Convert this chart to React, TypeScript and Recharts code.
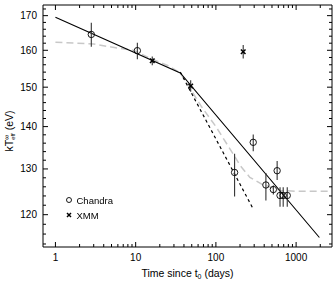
import { ComposedChart, Scatter, Line, XAxis, YAxis, ErrorBar, Legend } from "recharts";

// Chandra observations (days since t0, kT in eV, error bars)
const chandraDays = [2.8, 10.5, 171, 292, 420, 520, 580, 630, 690, 775];
const chandraKT = [164.5, 159.9, 129.2, 136.2, 126.4, 125.4, 129.6, 124.1, 124.1, 124.1];
const chandraErrLow = [3.5, 2.4, 5.3, 2.1, 3.4, 1.1, 2.1, 2.4, 2.4, 2.4];
const chandraErrHigh = [3.4, 2.2, 4.3, 1.9, 2.7, 0.9, 2.2, 1.8, 1.8, 1.8];

// XMM observations
const xmmDays = [16.1, 48.5, 219];
const xmmKT = [157.1, 150.3, 159.6];
const xmmErr = [1.2, 1.5, 1.9];

// broken power law fit (solid)
const fitDays = [1, 36, 1950];
const fitKT = [169.5, 153.8, 115.3];

// steep power law (black dashed)
const steepDays = [36, 292];
const steepKT = [154, 121.2];

// cooling model (grey dashed)
const modelDays = [1, 3, 5, 9.4, 15, 25, 36, 66, 100, 170, 200, 265, 372, 630, 1000, 2640];
const modelKT = [162.3, 161.8, 160.9, 160.0, 157.8, 155.8, 153.8, 145, 140, 133, 130.8, 128.1, 126.6, 125.2, 125.0, 125.0];

const xTicks = [1, 2, 3, 4, 5, 6, 7, 8, 9, 10, 20, 30, 40, 50, 60, 70, 80, 90, 100, 200, 300, 400, 500, 600, 700, 800, 900, 1000, 2000];
const yTicks = [114, 116, 118, 120, 122, 124, 126, 128, 130, 132, 134, 136, 138, 140, 142, 144, 146, 148, 150, 152, 154, 156, 158, 160, 162, 164, 166, 168, 170, 172];

const chandra = chandraDays.map((t, i) => ({ t, kT: chandraKT[i], err: [chandraErrLow[i], chandraErrHigh[i]] }));
const xmm = xmmDays.map((t, i) => ({ t, kT: xmmKT[i], err: [xmmErr[i], xmmErr[i]] }));
const fit = fitDays.map((t, i) => ({ t, kT: fitKT[i] }));
const steep = steepDays.map((t, i) => ({ t, kT: steepKT[i] }));
const model = modelDays.map((t, i) => ({ t, kT: modelKT[i] }));

const FONT = "'Liberation Sans', Arial, Helvetica, sans-serif";
const isDecade = (v: number) => Math.abs(Math.log10(v) - Math.round(Math.log10(v))) < 1e-9;

const BottomTick = (p: any) => {
  const v = p.payload.value;
  const major = isDecade(v);
  return (
    <g>
      <line x1={p.x} x2={p.x} y1={p.y} y2={p.y - (major ? 5 : 3)} stroke="#000" />
      {major && (
        <text x={p.x} y={p.y + 13.5} textAnchor="middle" fontSize={10} fontFamily={FONT} fill="#000">
          {v}
        </text>
      )}
    </g>
  );
};

const TopTick = (p: any) => {
  const major = isDecade(p.payload.value);
  return <line x1={p.x} x2={p.x} y1={p.y} y2={p.y + (major ? 5 : 3)} stroke="#000" />;
};

const LeftTick = (p: any) => {
  const v = p.payload.value;
  const major = v % 10 === 0;
  return (
    <g>
      <line x1={p.x} x2={p.x + (major ? 5 : 3)} y1={p.y} y2={p.y} stroke="#000" />
      {major && (
        <text x={p.x - 6} y={p.y + 3.5} textAnchor="end" fontSize={10} fontFamily={FONT} fill="#000">
          {v}
        </text>
      )}
    </g>
  );
};

const RightTick = (p: any) => {
  const major = p.payload.value % 10 === 0;
  return <line x1={p.x} x2={p.x - (major ? 5 : 3)} y1={p.y} y2={p.y} stroke="#000" />;
};

const XTitle = (p: any) => {
  const vb = p.viewBox;
  return (
    <text x={vb.x + vb.width / 2} y={vb.y + 30} textAnchor="middle" fontSize={10.5} fontFamily={FONT} fill="#000">
      Time since t
      <tspan fontSize={7} dy={2}>0</tspan>
      <tspan dy={-2}> (days)</tspan>
    </text>
  );
};

const YTitle = () => {
  const x = 13;
  const y = 131;
  return (
    <text x={x} y={y} transform={`rotate(-90, ${x}, ${y})`} textAnchor="middle" fontSize={10.5} fontFamily={FONT} fill="#000">
      kT
      <tspan fontSize={7} dy={-4}>∞</tspan>
      <tspan fontSize={6} dx={-5} dy={6}>eff</tspan>
      <tspan dy={-2}> (eV)</tspan>
    </text>
  );
};

const OpenCircle = (p: any) => <circle cx={p.cx} cy={p.cy} r={3.2} fill="none" stroke="#000" strokeWidth={0.9} />;

const Cross = (p: any) => (
  <g stroke="#000" strokeWidth={1.5}>
    <line x1={p.cx - 2.3} y1={p.cy - 2.3} x2={p.cx + 2.3} y2={p.cy + 2.3} />
    <line x1={p.cx - 2.3} y1={p.cy + 2.3} x2={p.cx + 2.3} y2={p.cy - 2.3} />
  </g>
);

const LegendContent = (p: any) => {
  const items = (p.payload || []).filter((e: any) => e.type !== "none");
  return (
    <div style={{ position: "fixed", left: 64, top: 193, fontFamily: FONT, fontSize: 9.5, color: "#000" }}>
      {items.map((e: any) => (
        <div key={e.value} style={{ display: "flex", alignItems: "center", height: 14.7 }}>
          <svg width={10} height={10} style={{ marginRight: 2.5 }}>
            {e.value === "Chandra" ? (
              <circle cx={5} cy={5} r={2.5} fill="none" stroke="#000" strokeWidth={0.9} />
            ) : (
              <g stroke="#000" strokeWidth={1.5}>
                <line x1={3} y1={3} x2={7} y2={7} />
                <line x1={3} y1={7} x2={7} y2={3} />
              </g>
            )}
          </svg>
          <span>{e.value}</span>
        </div>
      ))}
    </div>
  );
};

export default function App() {
  return (
    <div style={{ position: "absolute", left: 0, top: 0, width: 334, height: 284, background: "#fff" }}>
      <ComposedChart width={334} height={284} margin={{ top: 0, right: 0, bottom: 0, left: 0 }}>
        <XAxis
          type="number"
          dataKey="t"
          scale="log"
          domain={[0.7, 2800]}
          allowDataOverflow
          ticks={xTicks}
          interval={0}
          height={37}
          tickSize={0}
          tickMargin={0}
          tickLine={false}
          axisLine={{ stroke: "#000" }}
          tick={BottomTick}
          label={XTitle}
        />
        <XAxis
          xAxisId="top"
          orientation="top"
          type="number"
          dataKey="t"
          scale="log"
          domain={[0.7, 2800]}
          allowDataOverflow
          ticks={xTicks}
          interval={0}
          height={5}
          tickSize={0}
          tickMargin={0}
          tickLine={false}
          axisLine={{ stroke: "#000" }}
          tick={TopTick}
        />
        <YAxis
          type="number"
          dataKey="kT"
          scale="log"
          domain={[113.4, 173.2]}
          allowDataOverflow
          ticks={yTicks}
          interval={0}
          width={43}
          tickSize={0}
          tickMargin={0}
          tickLine={false}
          axisLine={{ stroke: "#000" }}
          tick={LeftTick}
          label={YTitle}
        />
        <YAxis
          yAxisId="right"
          orientation="right"
          type="number"
          scale="log"
          domain={[113.4, 173.2]}
          allowDataOverflow
          ticks={yTicks}
          interval={0}
          width={2}
          tickSize={0}
          tickMargin={0}
          tickLine={false}
          axisLine={{ stroke: "#000" }}
          tick={RightTick}
        />
        <Line data={model} dataKey="kT" stroke="#c8c8c8" strokeWidth={1.5} strokeDasharray="7 4" dot={false} legendType="none" isAnimationActive={false} />
        <Line data={steep} dataKey="kT" stroke="#000" strokeWidth={1.2} strokeDasharray="3 3" dot={false} legendType="none" isAnimationActive={false} />
        <Line data={fit} dataKey="kT" stroke="#000" strokeWidth={1.1} dot={false} legendType="none" isAnimationActive={false} />
        <Scatter name="Chandra" data={chandra} dataKey="kT" shape={OpenCircle} isAnimationActive={false}>
          <ErrorBar dataKey="err" direction="y" width={0} stroke="#333" strokeWidth={1.1} isAnimationActive={false} />
        </Scatter>
        <Scatter name="XMM" data={xmm} dataKey="kT" shape={Cross} isAnimationActive={false}>
          <ErrorBar dataKey="err" direction="y" width={0} stroke="#333" strokeWidth={1.1} isAnimationActive={false} />
        </Scatter>
        <Legend layout="vertical" verticalAlign="top" content={LegendContent} />
      </ComposedChart>
    </div>
  );
}
